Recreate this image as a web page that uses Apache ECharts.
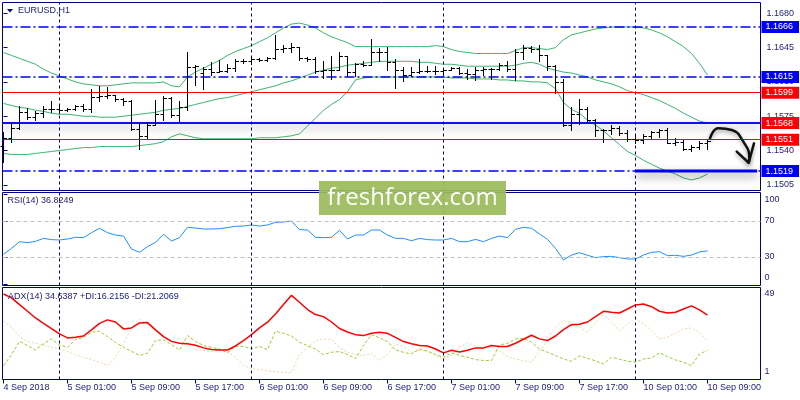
<!DOCTYPE html>
<html><head><meta charset="utf-8">
<script src="https://cdn.jsdelivr.net/npm/echarts@6/dist/echarts.min.js"></script>
<style>html,body{margin:0;padding:0;background:#fff}#c{width:800px;height:400px}</style>
</head><body><div id="c"></div>
<script>
// ---------------- data ----------------
const symbolTitle = 'EURUSD,H1';
const rsiTitle = 'RSI(14) 36.8249';
const adxTitle = 'ADX(14) 34.6387 +DI:16.2156 -DI:21.2069';

const tickLabels = ['4 Sep 2018','5 Sep 01:00','5 Sep 09:00','5 Sep 17:00','6 Sep 01:00','6 Sep 09:00',
  '6 Sep 17:00','7 Sep 01:00','7 Sep 09:00','7 Sep 17:00','10 Sep 01:00','10 Sep 09:00'];
const tickBars = [0,8,16,24,32,40,48,56,64,72,80,88];
const dayStarts = [7,31,55,79];

// [open, high, low, close]
const bars = [
[1.1545,1.1559,1.1528,1.1553],[1.1553,1.1568,1.1549,1.1563],[1.1563,1.1585,1.1562,1.1579],[1.1579,1.1583,1.1572,1.1574],
[1.1574,1.1580,1.1571,1.1578],[1.1578,1.1585,1.1574,1.1582],[1.1582,1.1590,1.1579,1.1582],[1.1582,1.1586,1.1578,1.1581],
[1.1581,1.1583,1.1580,1.1582],[1.1582,1.1586,1.1581,1.1585],[1.1585,1.1587,1.1580,1.1582],[1.1582,1.1603,1.1579,1.1595],
[1.1595,1.1606,1.1591,1.1596],[1.1596,1.1605,1.1594,1.1597],[1.1597,1.1597,1.1591,1.1593],[1.1593,1.1594,1.1586,1.1591],
[1.1591,1.1592,1.1561,1.1562],[1.1562,1.1569,1.1542,1.1555],[1.1555,1.1569,1.1553,1.1566],[1.1566,1.1592,1.1566,1.1577],
[1.1577,1.1596,1.1571,1.1594],[1.1594,1.1595,1.1574,1.1576],[1.1576,1.1590,1.1570,1.1584],[1.1584,1.1640,1.1581,1.1625],
[1.1625,1.1627,1.1607,1.1626],[1.1619,1.1625,1.1603,1.1623],[1.1623,1.1630,1.1617,1.1620],[1.1620,1.1632,1.1620,1.1621],
[1.1621,1.1628,1.1620,1.1624],[1.1624,1.1633,1.1621,1.1631],[1.1631,1.1633,1.1629,1.1631],[1.1631,1.1636,1.1628,1.1633],
[1.1633,1.1634,1.1631,1.1632],[1.1632,1.1635,1.1631,1.1634],[1.1634,1.1658,1.1633,1.1644],[1.1644,1.1648,1.1640,1.1645],
[1.1645,1.1650,1.1641,1.1646],[1.1646,1.1646,1.1632,1.1634],[1.1634,1.1635,1.1631,1.1633],[1.1633,1.1635,1.1619,1.1621],
[1.1621,1.1631,1.1614,1.1622],[1.1622,1.1636,1.1613,1.1622],[1.1622,1.1641,1.1622,1.1636],[1.1636,1.1636,1.1616,1.1620],
[1.1620,1.1629,1.1616,1.1628],[1.1628,1.1631,1.1626,1.1627],[1.1627,1.1654,1.1627,1.1641],[1.1641,1.1645,1.1631,1.1641],
[1.1641,1.1646,1.1622,1.1630],[1.1630,1.1633,1.1604,1.1622],[1.1622,1.1625,1.1611,1.1617],[1.1617,1.1625,1.1616,1.1620],
[1.1620,1.1633,1.1619,1.1621],[1.1621,1.1626,1.1620,1.1621],[1.1621,1.1626,1.1618,1.1621],[1.1621,1.1623,1.1619,1.1622],
[1.1622,1.1625,1.1622,1.1624],[1.1624,1.1625,1.1618,1.1619],[1.1619,1.1623,1.1613,1.1618],[1.1618,1.1625,1.1612,1.1622],
[1.1622,1.1625,1.1617,1.1623],[1.1623,1.1624,1.1613,1.1623],[1.1623,1.1629,1.1622,1.1627],[1.1627,1.1631,1.1621,1.1623],
[1.1623,1.1644,1.1612,1.1641],[1.1641,1.1648,1.1633,1.1645],[1.1645,1.1647,1.1640,1.1644],[1.1644,1.1648,1.1631,1.1637],
[1.1637,1.1637,1.1622,1.1626],[1.1626,1.1627,1.1599,1.1610],[1.1610,1.1613,1.1565,1.1566],[1.1566,1.1584,1.1561,1.1577],
[1.1577,1.1593,1.1567,1.1582],[1.1582,1.1584,1.1569,1.1571],[1.1571,1.1572,1.1555,1.1561],[1.1561,1.1562,1.1549,1.1561],
[1.1561,1.1566,1.1557,1.1563],[1.1563,1.1565,1.1556,1.1558],[1.1558,1.1561,1.1550,1.1552],[1.1552,1.1557,1.1548,1.1551],
[1.1551,1.1557,1.1548,1.1555],[1.1555,1.1560,1.1553,1.1559],[1.1559,1.1562,1.1554,1.1561],[1.1561,1.1563,1.1548,1.1548],
[1.1548,1.1553,1.1546,1.1549],[1.1549,1.1551,1.1541,1.1542],[1.1542,1.1546,1.1539,1.1544],[1.1544,1.1550,1.1542,1.1548],
[1.1548,1.1551,1.1542,1.1550]
];

const bbUpper = [1.1640,1.1637,1.1634,1.1631,1.1628,1.1623,1.1619,1.1616,1.1613,1.1610,
1.1608,1.1607,1.1606,1.1606,1.1607,1.1608,1.1609,1.1609,1.1609,1.1609,
1.1610,1.1606,1.1605,1.1615,1.1620,1.1624,1.1628,1.1632,1.1637,1.1641,
1.1644,1.1647,1.1651,1.1655,1.1660,1.1665,1.1669,1.1670,1.1668,1.1665,
1.1660,1.1656,1.1653,1.1650,1.1646,1.1646,1.1646,1.1646,1.1646,1.1646,
1.1646,1.1646,1.1646,1.1646,1.1647,1.1646,1.1643,1.1641,1.1640,1.1639,
1.1639,1.1639,1.1639,1.1639,1.1642,1.1645,1.1645,1.1644,1.1643,1.1645,
1.1653,1.1658,1.1660,1.1662,1.1664,1.1665,1.1666,1.1666,1.1666,1.1666,
1.1665,1.1663,1.1660,1.1656,1.1651,1.1646,1.1639,1.1629,1.1617];
const bbMid = [1.1588,1.1586,1.1584,1.1583,1.1581,1.1580,1.1578,1.1577,1.1577,1.1576,
1.1575,1.1575,1.1574,1.1574,1.1574,1.1575,1.1576,1.1577,1.1578,1.1579,
1.1581,1.1582,1.1583,1.1585,1.1587,1.1589,1.1591,1.1593,1.1594,1.1596,
1.1598,1.1600,1.1602,1.1604,1.1606,1.1609,1.1611,1.1614,1.1617,1.1620,
1.1622,1.1624,1.1625,1.1627,1.1628,1.1629,1.1630,1.1631,1.1631,1.1631,
1.1631,1.1631,1.1630,1.1630,1.1629,1.1628,1.1628,1.1627,1.1626,1.1626,
1.1626,1.1626,1.1626,1.1626,1.1627,1.1629,1.1630,1.1628,1.1624,1.1622,
1.1620,1.1619,1.1617,1.1615,1.1612,1.1610,1.1608,1.1605,1.1601,1.1599,
1.1597,1.1594,1.1591,1.1587,1.1583,1.1578,1.1574,1.1570,1.1568];
const bbLower = [1.1537,1.1536,1.1536,1.1536,1.1537,1.1538,1.1539,1.1540,1.1541,1.1542,
1.1543,1.1543,1.1544,1.1544,1.1544,1.1544,1.1544,1.1545,1.1546,1.1547,
1.1549,1.1554,1.1557,1.1555,1.1553,1.1552,1.1552,1.1552,1.1552,1.1552,
1.1552,1.1552,1.1553,1.1553,1.1553,1.1554,1.1555,1.1557,1.1565,1.1573,
1.1581,1.1587,1.1592,1.1600,1.1612,1.1614,1.1615,1.1615,1.1615,1.1615,
1.1615,1.1615,1.1615,1.1615,1.1615,1.1615,1.1614,1.1614,1.1614,1.1613,
1.1613,1.1613,1.1612,1.1612,1.1611,1.1611,1.1610,1.1610,1.1609,1.1603,
1.1589,1.1582,1.1578,1.1571,1.1566,1.1560,1.1553,1.1546,1.1539,1.1535,
1.1530,1.1526,1.1522,1.1519,1.1516,1.1512,1.1510,1.1512,1.1516];

const rsi = [33.0,39.6,47.0,45.9,47.4,50.7,49.3,48.9,50.0,51.9,
51.5,57.0,61.9,57.0,54.4,53.3,38.9,35.2,41.5,46.3,
55.2,47.8,51.5,63.0,62.2,61.1,61.1,61.5,62.6,64.1,
64.4,65.6,64.4,65.6,68.5,68.9,70.0,60.4,60.0,51.9,
51.5,51.9,59.6,50.0,54.4,54.4,60.0,60.0,54.4,50.7,
50.7,48.1,50.7,49.3,48.9,48.9,50.7,47.0,47.0,49.6,
47.0,50.7,53.3,51.5,60.7,63.0,61.9,55.6,49.6,39.6,
26.7,32.2,34.8,31.9,29.3,30.4,30.7,29.3,27.8,27.8,
32.2,35.2,35.9,31.5,31.9,30.7,32.2,35.6,36.8];

const adx = [45.6,43.6,40.1,36.6,33.1,30.3,27.6,24.8,22.7,23.0,
23.7,26.9,30.3,32.1,31.0,27.4,27.9,30.5,30.7,26.9,
23.4,20.9,19.9,19.6,18.9,17.5,16.6,16.4,16.4,18.5,
21.3,24.4,27.9,30.9,35.2,40.1,44.9,41.3,37.5,34.9,
33.8,31.0,27.6,25.8,24.4,23.9,25.1,25.6,25.1,23.0,
20.8,19.7,18.7,18.5,16.9,14.9,16.3,15.4,16.3,17.5,
17.5,18.7,18.2,18.2,19.9,22.0,24.1,22.2,21.3,23.7,
27.0,29.6,29.8,31.0,33.8,36.6,36.1,35.7,37.8,39.9,
40.4,39.0,36.6,35.7,36.1,37.8,39.4,37.3,34.6];
const plusDI = [8.2,14.0,20.9,18.7,16.4,19.6,22.2,19.0,17.8,21.8,
23.0,25.6,26.2,23.4,20.3,17.8,15.7,13.6,14.7,21.3,
21.8,19.2,16.4,23.9,20.9,18.7,17.8,16.9,15.0,18.3,
18.3,16.9,18.2,16.6,26.2,25.1,23.7,20.4,18.7,16.9,
14.0,15.2,15.6,14.0,11.9,18.7,24.4,22.7,20.8,16.4,
15.2,14.3,16.9,15.7,14.0,12.6,14.9,13.6,12.6,11.4,
10.9,10.9,19.0,19.9,22.2,22.5,20.4,16.9,15.2,13.5,
11.7,10.5,13.3,12.1,10.7,9.1,12.6,11.6,10.5,10.0,
11.7,12.2,15.0,12.9,11.2,10.0,8.2,14.3,16.2];
const minusDI = [31.4,28.3,23.4,20.8,19.9,19.0,17.8,16.9,15.6,14.0,
12.6,11.4,10.0,8.3,12.6,19.9,27.7,32.4,30.0,26.5,
23.0,21.3,20.1,18.5,16.9,16.1,15.7,16.1,15.4,12.6,
8.3,6.7,6.2,5.6,5.1,4.6,4.8,14.0,17.8,21.3,
22.2,21.8,17.8,15.2,14.0,13.5,14.7,10.9,14.0,19.6,
18.2,15.2,16.1,16.4,13.5,11.4,13.8,17.8,20.3,18.5,
16.9,17.8,16.1,12.9,11.7,10.9,10.0,15.7,21.3,28.3,
31.7,30.5,28.3,25.6,30.9,34.9,30.9,26.5,30.0,32.6,
30.0,26.5,22.2,23.0,25.1,27.4,27.9,25.6,21.2];

const priceTicks = [1.1505,1.1540,1.1575,1.1610,1.1645,1.1680];
const rsiTicks = [0,30,70,100];
const rsiLevels = [30,70];
const adxTicks = [1,49];
// horizontal levels: 1.1666, 1.1615, 1.1599, 1.1568, 1.1551, 1.1519
const levelPrices = [1.1666,1.1615,1.1599,1.1568,1.1551,1.1519];
const supportSegment = [79, 94.2];   // bar range of the thick support line at 1.1519
const arrowCurve = [[88.31,1.15524],[89.35,1.15626],[91.03,1.15609],[92.48,1.15490],[93.23,1.15320],[93.15,1.15275]];
const arrowHead = [[91.65,1.15388],[93.15,1.15275],[93.81,1.15473]];

// ---------------- chart ----------------
const NAVY = '#000080';
const TXT = '#1c1c78';
const FONT = '"Liberation Sans", Arial, sans-serif';
const BLUE = '#0000F0', RED = '#FF0000';
const X_MIN = -0.125, X_MAX = 94.625;
const SHADOW = {shadowColor:'rgba(0,0,0,0.5)', shadowBlur:8, shadowOffsetY:4};

const levelStyle = [
  {line:{color:BLUE,width:1.5,type:[10,3,2,3]}, box:BLUE},
  {line:{color:BLUE,width:1.5,type:[10,3,2,3]}, box:BLUE},
  {line:{color:RED,width:1,type:'solid'}, box:RED},
  {line:{color:BLUE,width:1.5,type:'solid'}, box:RED},
  {line:{color:RED,width:1,type:'solid'}, box:RED},
  {line:{color:BLUE,width:1.5,type:[10,3,2,3]}, box:BLUE}
];

function daySepLines() {
  return dayStarts.map(d => ({xAxis: d, lineStyle:{color:NAVY,width:1,type:[3,3]}, label:{show:false}}));
}

const levelLines = levelPrices.map((p, k) => ({
  yAxis: p,
  lineStyle: levelStyle[k].line,
  label: {show:true, position:'end', distance:1, formatter: () => p.toFixed(4),
    backgroundColor: levelStyle[k].box, color:'#fff', padding:[1,6,1,4],
    fontSize:9, fontFamily:FONT, lineHeight:10}
}));

function xAxis(gi, withLabels) {
  return {
    type:'value', gridIndex:gi, min:X_MIN, max:X_MAX,
    axisLine:{show:false}, splitLine:{show:false},
    axisTick: withLabels ? {show:true, customValues: tickBars, length:4, lineStyle:{color:NAVY}} : {show:false},
    axisLabel: withLabels ? {show:true, customValues: tickBars, align:'left', margin:4,
      formatter: v => { const k = tickBars.indexOf(Math.round(v)); return k >= 0 ? tickLabels[k] : ''; },
      color:TXT, fontSize:9, fontFamily:FONT} : {show:false}
  };
}

const gridBase = {left:2.5, width:758, show:true, borderColor:NAVY, borderWidth:1, backgroundColor:'#fff', outerBoundsMode:'none', containLabel:false};

const option = {
  animation:false,
  backgroundColor:'#fff',
  grid:[
    Object.assign({top:2.5, height:188}, gridBase),
    Object.assign({top:192.5, height:93}, gridBase),
    Object.assign({top:287.5, height:92}, gridBase)
  ],
  xAxis:[xAxis(0,false), xAxis(1,false), xAxis(2,true)],
  yAxis:[
    {type:'value', gridIndex:0, position:'right', min:1.14992, max:1.16910, scale:true,
      axisLine:{show:false}, splitLine:{show:false},
      axisTick:{show:true, customValues:priceTicks, length:4, lineStyle:{color:NAVY}},
      axisLabel:{customValues:priceTicks, formatter: v => v.toFixed(4), margin:6, color:TXT, fontSize:9, fontFamily:FONT}},
    {type:'value', gridIndex:1, position:'right', min:-1.67, max:101.67,
      axisLine:{show:false}, splitLine:{show:false},
      axisTick:{show:true, customValues:rsiTicks, length:4, lineStyle:{color:NAVY}},
      axisLabel:{customValues:rsiTicks, margin:4, color:TXT, fontSize:9, fontFamily:FONT,
        formatter: v => v === 100 ? '{t|100}' : (v === 0 ? '{b|0}' : String(v)),
        rich:{t:{padding:[12,0,0,0], color:TXT, fontSize:9, fontFamily:FONT}, b:{padding:[0,0,12,0], color:TXT, fontSize:9, fontFamily:FONT}}}},
    {type:'value', gridIndex:2, position:'right', min:1, max:49,
      axisLine:{show:false}, splitLine:{show:false},
      axisTick:{show:true, customValues:adxTicks, length:4, lineStyle:{color:NAVY}},
      axisLabel:{customValues:adxTicks, margin:4, color:TXT, fontSize:9, fontFamily:FONT,
        formatter: v => v === 49 ? '{t|49}' : '{b|1}',
        rich:{t:{padding:[13,0,0,0], color:TXT, fontSize:9, fontFamily:FONT}, b:{padding:[0,0,15,0], color:TXT, fontSize:9, fontFamily:FONT}}}}
  ],
  graphic:[
    {type:'polygon', shape:{points:[[7,9],[13,9],[10,12.5]]}, style:{fill:NAVY}, z:50},
    {type:'text', x:18, y:11, style:{text:symbolTitle, fill:TXT, font:'9px '+FONT, verticalAlign:'middle'}, z:50},
    {type:'text', x:7.5, y:201, style:{text:rsiTitle, fill:TXT, font:'9px '+FONT, verticalAlign:'middle'}, z:50},
    {type:'text', x:8, y:297, style:{text:adxTitle, fill:TXT, font:'9px '+FONT, verticalAlign:'middle'}, z:50},
    {type:'rect', shape:{x:319, y:181, width:187, height:34}, style:{fill:'#9BBB59', opacity:0.93}, z:100},
    {type:'text', x:412.5, y:198.5, style:{text:'freshforex.com', fill:'#fff', font:'24px "Open Sans", sans-serif', align:'center', verticalAlign:'middle'}, z:101}
  ],
  series:[
    {type:'line', xAxisIndex:0, yAxisIndex:0, data:bbUpper.map((v,i)=>[i,v]), showSymbol:false, symbol:'none', lineStyle:{color:'#3CB371',width:1}, z:2},
    {type:'line', xAxisIndex:0, yAxisIndex:0, data:bbMid.map((v,i)=>[i,v]), showSymbol:false, symbol:'none', lineStyle:{color:'#3CB371',width:1}, z:2},
    {type:'line', xAxisIndex:0, yAxisIndex:0, data:bbLower.map((v,i)=>[i,v]), showSymbol:false, symbol:'none', lineStyle:{color:'#3CB371',width:1}, z:2},
    // shadowed level line (1.1568) across the whole chart
    {type:'line', xAxisIndex:0, yAxisIndex:0, data:[[X_MIN, levelPrices[3]],[X_MAX, levelPrices[3]]], symbol:'none', showSymbol:false, z:4,
      lineStyle:Object.assign({color:BLUE,width:1.5}, SHADOW)},
    // thick support segment (1.1519)
    {type:'line', xAxisIndex:0, yAxisIndex:0, data:[[supportSegment[0], levelPrices[5]],[supportSegment[1], levelPrices[5]]], symbol:'none', showSymbol:false, z:4,
      lineStyle:Object.assign({color:BLUE,width:3}, SHADOW)},
    {type:'custom', xAxisIndex:0, yAxisIndex:0, z:5,
      data: bars.map((b,i)=>[i,b[0],b[1],b[2],b[3]]),
      encode:{x:0, y:[1,2,3,4]},
      renderItem: function (params, api) {
        const i = api.value(0);
        const po = api.coord([i, api.value(1)]);
        const ph = api.coord([i, api.value(2)]);
        const pl = api.coord([i, api.value(3)]);
        const pc = api.coord([i, api.value(4)]);
        const x = Math.floor(ph[0]) + 0.5;
        const yo = Math.round(po[1]) + 0.5, yc = Math.round(pc[1]) + 0.5;
        const st = {stroke:'#000', lineWidth:1};
        return {type:'group', children:[
          {type:'line', shape:{x1:x, y1:Math.round(ph[1]), x2:x, y2:Math.round(pl[1])+1}, style:st},
          {type:'line', shape:{x1:x-3, y1:yo, x2:x, y2:yo}, style:st},
          {type:'line', shape:{x1:x, y1:yc, x2:x+3.5, y2:yc}, style:st}
        ]};
      },
      markLine:{symbol:['none','none'], silent:true, animation:false, precision:4,
        lineStyle:{type:'solid'},
        data: daySepLines().concat(levelLines)}
    },
    {type:'line', xAxisIndex:0, yAxisIndex:0, data:arrowCurve, smooth:0.5, symbol:'none', showSymbol:false, z:8,
      lineStyle:{color:'#111',width:2.5,cap:'round',shadowColor:'rgba(0,0,0,0.35)',shadowBlur:4,shadowOffsetY:2}},
    {type:'line', xAxisIndex:0, yAxisIndex:0, data:arrowHead, symbol:'none', showSymbol:false, z:8,
      lineStyle:{color:'#111',width:2.5,cap:'round',join:'round',shadowColor:'rgba(0,0,0,0.35)',shadowBlur:4,shadowOffsetY:2}},
    {type:'line', xAxisIndex:1, yAxisIndex:1, data:rsi.map((v,i)=>[i,v]), symbol:'none', showSymbol:false, lineStyle:{color:'#1E90FF',width:1}, z:3,
      markLine:{symbol:['none','none'], silent:true, animation:false,
        data: daySepLines().concat(rsiLevels.map(v => ({yAxis:v, lineStyle:{color:'#C0C0C0',width:1,type:[4,3]}, label:{show:false}})))}},
    {type:'line', xAxisIndex:2, yAxisIndex:2, data:minusDI.map((v,i)=>[i,v]), symbol:'none', showSymbol:false, lineStyle:{color:'#F5D5A8',width:1,type:[2,2]}, z:2},
    {type:'line', xAxisIndex:2, yAxisIndex:2, data:plusDI.map((v,i)=>[i,v]), symbol:'none', showSymbol:false, lineStyle:{color:'#9ACD32',width:1,type:[3,2]}, z:2},
    {type:'line', xAxisIndex:2, yAxisIndex:2, data:adx.map((v,i)=>[i,v]), symbol:'none', showSymbol:false, lineStyle:{color:'#FF0000',width:1.5}, z:3,
      markLine:{symbol:['none','none'], silent:true, animation:false, data: daySepLines()}}
  ]
};

const chart = echarts.init(document.getElementById('c'), null, {renderer:'canvas'});
chart.setOption(option);
</script>
</body></html>
